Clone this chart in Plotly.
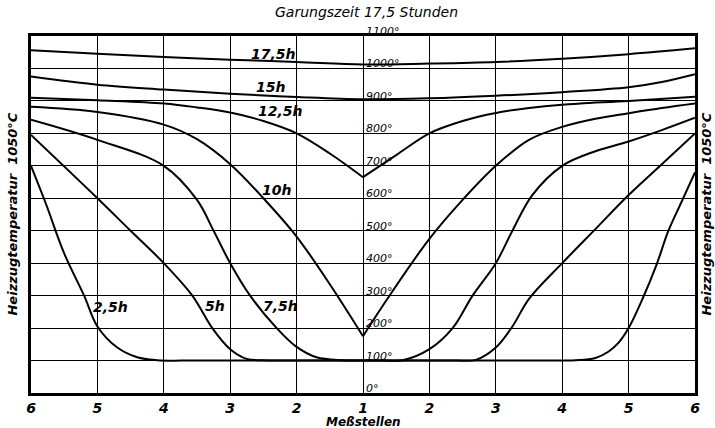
import plotly.graph_objects as go

# Measurement positions: left wall 6 ... centre 1 ... right wall 6 (plotted as -5..5)
tick_pos = [-5, -4, -3, -2, -1, 0, 1, 2, 3, 4, 5]
tick_text = ["6", "5", "4", "3", "2", "1", "2", "3", "4", "5", "6"]
temp_ticks = [0, 100, 200, 300, 400, 500, 600, 700, 800, 900, 1000, 1100]

h175_x = [-5, -4, -3, -2, -1, 0, 1, 2, 3, 4, 5]
h175_t = [1056, 1045, 1035, 1027, 1020, 1012, 1015, 1020, 1030, 1044, 1062]

h150_x = [-5, -4, -3, -2, -1, 0, 1, 2, 3, 4, 4.5, 5]
h150_t = [975, 950, 935, 922, 912, 905, 908, 916, 927, 942, 958, 982]

h125_x = [-5, -4, -3, -2.5, -2, -1.5, -1, -0.5, 0, 0.5, 1, 1.5, 2, 2.5, 3, 4, 5]
h125_t = [910, 902, 892, 880, 864, 838, 800, 738, 665, 733, 800, 838, 863, 878, 888, 900, 913]

h100_x = [-5, -4, -3, -2.5, -2, -1.5, -1, -0.5, 0, 0.35, 1, 1.5, 2, 2.5, 3, 3.5, 4, 4.5, 5]
h100_t = [882, 866, 827, 782, 705, 600, 482, 335, 175, 285, 475, 595, 700, 780, 820, 845, 862, 878, 892]

h075_x = [-5, -4, -3, -2.5, -2.25, -2, -1.7, -1.3, -1, -0.7, -0.3, 0, 0.3, 0.6, 1, 1.35,
          1.65, 2, 2.25, 2.55, 3, 3.5, 4, 4.5, 5]
h075_t = [842, 780, 700, 595, 500, 400, 300, 200, 142, 110, 101, 100, 100, 101, 135, 200,
          300, 400, 500, 610, 700, 745, 775, 810, 848]

h050_x = [-5, -4, -3.5, -3, -2.57, -2.27, -2, -1.75, -1.5, -1, 0, 1, 1.4, 1.7, 2, 2.25,
          2.5, 3, 3.5, 4, 4.5, 5]
h050_t = [795, 600, 500, 400, 300, 200, 135, 105, 101, 100, 100, 100, 100, 102, 140, 205,
          290, 400, 505, 610, 705, 800]

h025_x = [-5, -4.77, -4.5, -4.2, -4, -3.7, -3.4, -3.1, -2.5, -1, 0, 1, 2.5, 3.2, 3.5, 3.7,
          3.85, 4, 4.22, 4.42, 4.6, 4.8, 5]
h025_t = [700, 580, 430, 300, 205, 140, 110, 101, 100, 100, 100, 100, 100, 101, 108, 128,
          155, 200, 295, 395, 500, 590, 680]

curves = [
    ("17,5h", h175_x, h175_t, -1.35, 1044),
    ("15h", h150_x, h150_t, -1.40, 943),
    ("12,5h", h125_x, h125_t, -1.25, 868),
    ("10h", h100_x, h100_t, -1.30, 626),
    ("7,5h", h075_x, h075_t, -1.25, 268),
    ("5h", h050_x, h050_t, -2.23, 268),
    ("2,5h", h025_x, h025_t, -3.80, 266),
]

FONT = "DejaVu Sans, sans-serif"

fig = go.Figure()
for name, xs, ts, lx, ly in curves:
    # split at the centre so the V-shaped minimum stays sharp
    left = [(x, t) for x, t in zip(xs, ts) if x <= 0]
    right = [(x, t) for x, t in zip(xs, ts) if x >= 0]
    if name in ("10h", "12,5h"):
        parts = [left, right]
    else:
        parts = [list(zip(xs, ts))]
    for part in parts:
        fig.add_trace(go.Scatter(
            x=[p[0] for p in part], y=[p[1] for p in part],
            mode="lines", name=name, legendgroup=name, showlegend=False,
            line=dict(color="black", width=2, shape="spline", smoothing=1.0),
            hoverinfo="skip",
        ))
    fig.add_annotation(x=lx, y=ly, text="<b><i>" + name + "</i></b>", showarrow=False,
                       font=dict(size=14, color="black", family=FONT))

for t in temp_ticks:
    fig.add_annotation(x=0, y=t, text="<i>" + str(t) + "°</i>", showarrow=False,
                       xanchor="left", yanchor="bottom", xshift=1, yshift=-4,
                       font=dict(size=11, color="black", family=FONT))

fig.add_annotation(xref="paper", yref="paper", x=0.505, y=1.066, yanchor="middle",
                   text="<i>Garungszeit 17,5 Stunden</i>", showarrow=False,
                   font=dict(size=14, color="black", family=FONT))
fig.add_annotation(xref="paper", yref="paper", x=-0.0286, xanchor="center", y=0.5,
                   yanchor="middle", textangle=-90,
                   text="<b><i>Heizzugtemperatur  1050°C</i></b>", showarrow=False,
                   font=dict(size=13, color="black", family=FONT))
fig.add_annotation(xref="paper", yref="paper", x=1.0166, xanchor="center", y=0.5,
                   yanchor="middle", textangle=-90,
                   text="<b><i>Heizzugtemperatur  1050°C</i></b>", showarrow=False,
                   font=dict(size=13, color="black", family=FONT))
fig.add_annotation(xref="paper", yref="paper", x=0.5, y=-0.082, yanchor="middle",
                   text="<b><i>Meßstellen</i></b>", showarrow=False,
                   font=dict(size=12, color="black", family=FONT))

fig.update_xaxes(range=[-5, 5], tickvals=tick_pos,
                 ticktext=["<b><i>" + s + "</i></b>" for s in tick_text],
                 showgrid=True, gridcolor="black", gridwidth=1.2, zeroline=False,
                 showline=True, linecolor="black", linewidth=2.5, mirror=True,
                 ticks="", ticklabelstandoff=0,
                 tickfont=dict(size=14, color="black", family=FONT))
fig.update_yaxes(range=[0, 1100], tickvals=temp_ticks, showticklabels=False,
                 showgrid=True, gridcolor="black", gridwidth=1.2, zeroline=False,
                 showline=True, linecolor="black", linewidth=2.5, mirror=True, ticks="")

fig.update_layout(width=715, height=428, margin=dict(l=31, r=20, t=36, b=31),
                  paper_bgcolor="white", plot_bgcolor="white", showlegend=False)
fig.write_html("out.html")
